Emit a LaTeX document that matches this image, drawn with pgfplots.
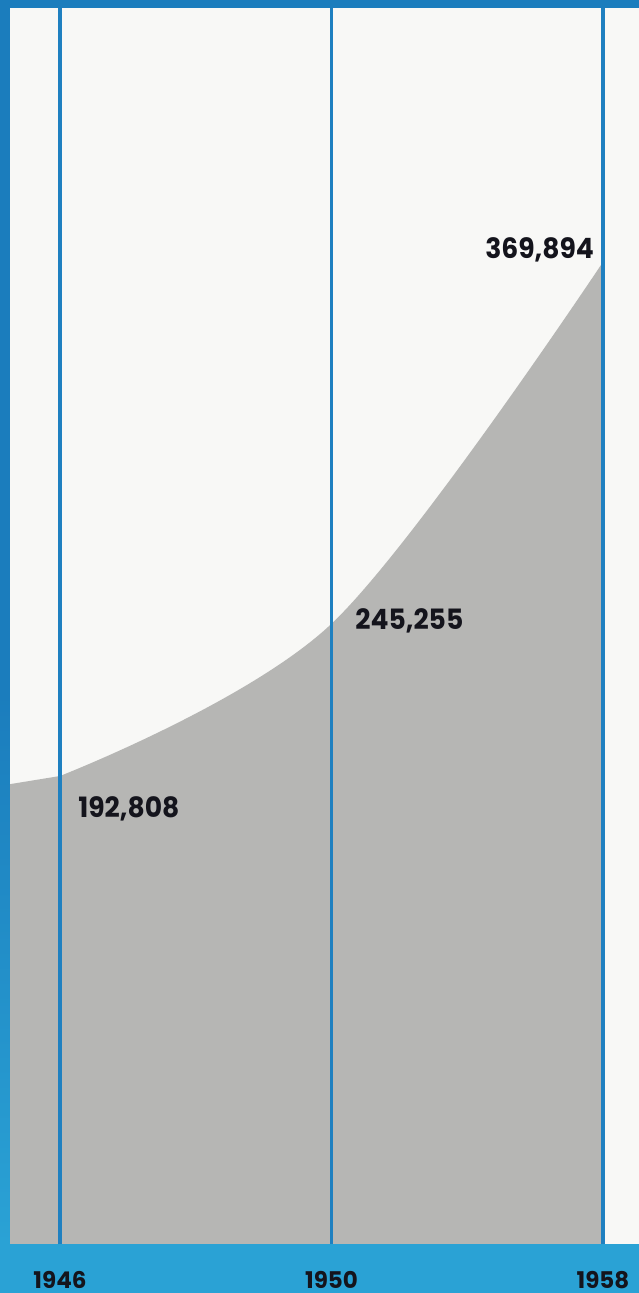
\documentclass[border=0pt]{standalone}
\usepackage{pgfplots}
\pgfplotsset{compat=1.18}
\usepackage{fontspec}
\setmainfont{Poppins}
\newfontfamily\numfont{Poppins}[FakeStretch=0.95]
\definecolor{frameblue}{HTML}{1B7DBD}
\definecolor{bandcyan}{HTML}{2AA2D5}
\definecolor{lineblue}{HTML}{1F80C0}
\definecolor{fillgray}{HTML}{B6B6B4}
\definecolor{panel}{HTML}{F8F8F6}
\definecolor{ink}{HTML}{14141C}
\begin{document}
\begin{tikzpicture}
\useasboundingbox (0,0) rectangle (319.5bp,646.5bp);
\fill[frameblue] (0,0) rectangle (319.5bp,646.5bp);
\shade[top color=frameblue, bottom color=bandcyan] (0,24.5bp) rectangle (5bp,300bp);
\fill[bandcyan] (0,0) rectangle (319.5bp,24.5bp);
\begin{axis}[
  at={(5bp,24.5bp)}, anchor=south west,
  scale only axis, width=314.5bp, height=618bp,
  xmin=-0.18416, xmax=2.1326,
  ymin=31573, ymax=457402,
  axis background/.style={fill=panel},
  axis line style={draw=none},
  axis on top,
  major tick length=0pt,
  ytick=\empty,
  xtick={0,1,2},
  xticklabels={1946,1950,1958},
  xmajorgrids,
  grid style={lineblue, line width=1.6bp},
  xticklabel style={font=\bfseries\fontsize{11.5bp}{12bp}\selectfont, text=ink, anchor=base, inner sep=0pt, yshift=-22bp},
]
\addplot[draw=none, fill=fillgray] coordinates {
  (-0.18416,190000) (0,192808)
} \closedcycle;
\addplot[draw=none, fill=fillgray, smooth, tension=0.55] coordinates {
  (0,192808) (1,245255) (2,369894)
} \closedcycle;
\node[anchor=base west, inner sep=0pt, text=ink, font=\numfont\bfseries\fontsize{14bp}{15bp}\selectfont] at (rel axis cs:0.108,0.345) {192,808};
\node[anchor=base west, inner sep=0pt, text=ink, font=\numfont\bfseries\fontsize{14bp}{15bp}\selectfont] at (rel axis cs:0.5485,0.4968) {245,255};
\node[anchor=base west, inner sep=0pt, text=ink, font=\numfont\bfseries\fontsize{14bp}{15bp}\selectfont] at (rel axis cs:0.755,0.797) {369,894};
\end{axis}
\end{tikzpicture}
\end{document}
